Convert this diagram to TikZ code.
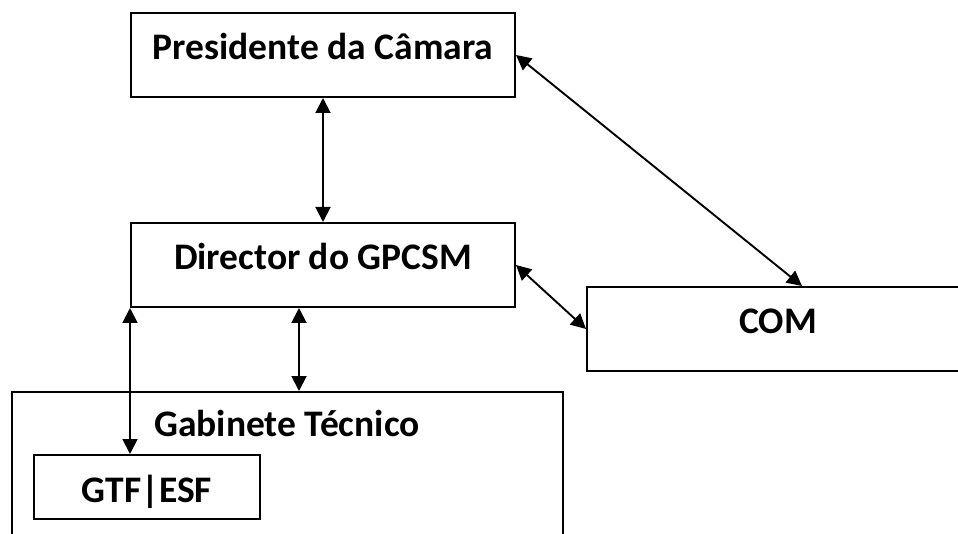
\documentclass[tikz,border=0pt]{standalone}
\usepackage{fontspec}
\setmainfont{Carlito}
\usetikzlibrary{arrows.meta,calc,positioning}

\tikzset{
  box/.style={draw, line width=2pt, inner sep=0pt,
    minimum width=384pt, minimum height=84pt,
    font=\fontsize{37.5}{45}\selectfont\bfseries,
    text height=30pt, text depth=21pt},
  link/.style={line width=1.9pt,
    {Triangle[length=15pt,width=15pt]}-{Triangle[length=15pt,width=15pt]}}
}

\begin{document}
\begin{tikzpicture}[x=1pt, y=-1pt]
\useasboundingbox (0,0) rectangle (958,534);
\clip (0,0) rectangle (958,534);

% Boxes
\node[box] (pres) at (323,55) {Presidente da Câmara};
\node[box] (dir) at (323,265) {Director do GPCSM};
\node[box, minimum width=382pt] (com) at (778,329) {COM};

% Gabinete (runs off the bottom)
\node[draw, line width=2pt, minimum width=551pt, minimum height=200pt,
  anchor=north] (gabbox) at (287.5,391) {};
\node[font=\fontsize{37.5}{45}\selectfont\bfseries, anchor=base, inner sep=0pt]
  (gab) at (287,436) {Gabinete Técnico};
\node[box, minimum width=226pt, minimum height=64pt,
  text height=30pt, text depth=0pt] (gtf) at (147,487) {GTF|ESF};

% Links
\draw[link] (pres.south) -- (dir.north);
\draw[link] (pres.east) -- ([xshift=24pt]com.north);
\draw[link] (dir.east) -- (com.west);
\draw[link] ([xshift=-24pt]dir.south) -- ([xshift=-24pt]dir.south |- gabbox.north);
\draw[link] (dir.south west) -- (dir.south west |- gtf.north);
\end{tikzpicture}
\end{document}
